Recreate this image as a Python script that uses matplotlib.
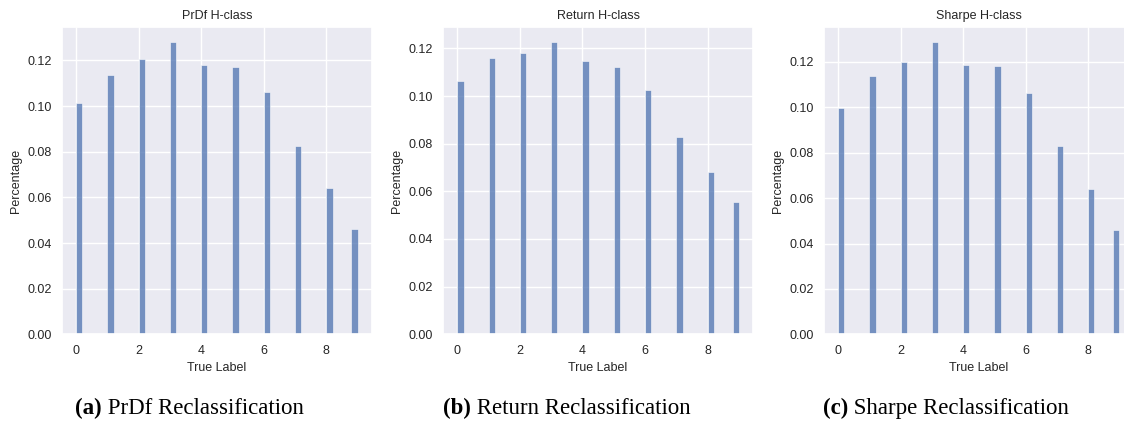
import matplotlib

matplotlib.use("Agg")
import matplotlib.pyplot as plt
import numpy as np
import seaborn as sns

# share of each true label after reclassification
labels = np.arange(10)
prdf = [0.1013, 0.1137, 0.1207, 0.1281, 0.1181, 0.1171, 0.1061, 0.0826, 0.0643, 0.0463]
ret = [0.1064, 0.1160, 0.1182, 0.1227, 0.1147, 0.1120, 0.1025, 0.0829, 0.0682, 0.0556]
sharpe = [0.0998, 0.1138, 0.1200, 0.1288, 0.1188, 0.1184, 0.1062, 0.0828, 0.0641, 0.0459]

titles = ["PrDf H-class", "Return H-class", "Sharpe H-class"]
captions = [("(a)", " PrDf Reclassification"),
            ("(b)", " Return Reclassification"),
            ("(c)", " Sharpe Reclassification")]

sns.set_theme(style="darkgrid")
plt.rcParams["font.family"] = ["Liberation Sans", "DejaVu Sans"]
plt.rcParams.update({
    "font.size": 9, "axes.titlesize": 9, "axes.labelsize": 9,
    "xtick.labelsize": 9, "ytick.labelsize": 9,
    "xtick.major.size": 0, "ytick.major.size": 0,
    "xtick.major.pad": 7.5, "ytick.major.pad": 7.5,
    "axes.labelpad": 4,
})

fig = plt.figure(figsize=(11.24, 4.22), dpi=100)
lefts = [0.0552, 0.3944, 0.7331]
cap_left = [75, 443, 823]  # px, left edge of each caption
bins = np.arange(46) / 5  # 45 bins over [0, 9]

for i, (vals, title) in enumerate(zip([prdf, ret, sharpe], titles)):
    ax = fig.add_axes([lefts[i], 0.2078, 0.2754, 0.7275])
    ax.hist(labels, bins=bins, weights=vals, color="#4c72b0", alpha=0.75,
            edgecolor="white", linewidth=0.5)
    ax.set_title(title, pad=6)
    ax.set_xlabel("True Label")
    ax.set_ylabel("Percentage")

    bold, rest = captions[i]
    t = fig.text(cap_left[i] / 1124, 1 - 419 / 422, bold, fontsize=16.5,
                 family="Liberation Serif", weight="bold", ha="left", va="bottom",
                 color="black")
    ax.annotate(rest, xy=(1, 0), xycoords=t, fontsize=16.5,
                family="Liberation Serif", ha="left", va="bottom", color="black",
                annotation_clip=False)

fig.savefig("out.png", dpi=100)
